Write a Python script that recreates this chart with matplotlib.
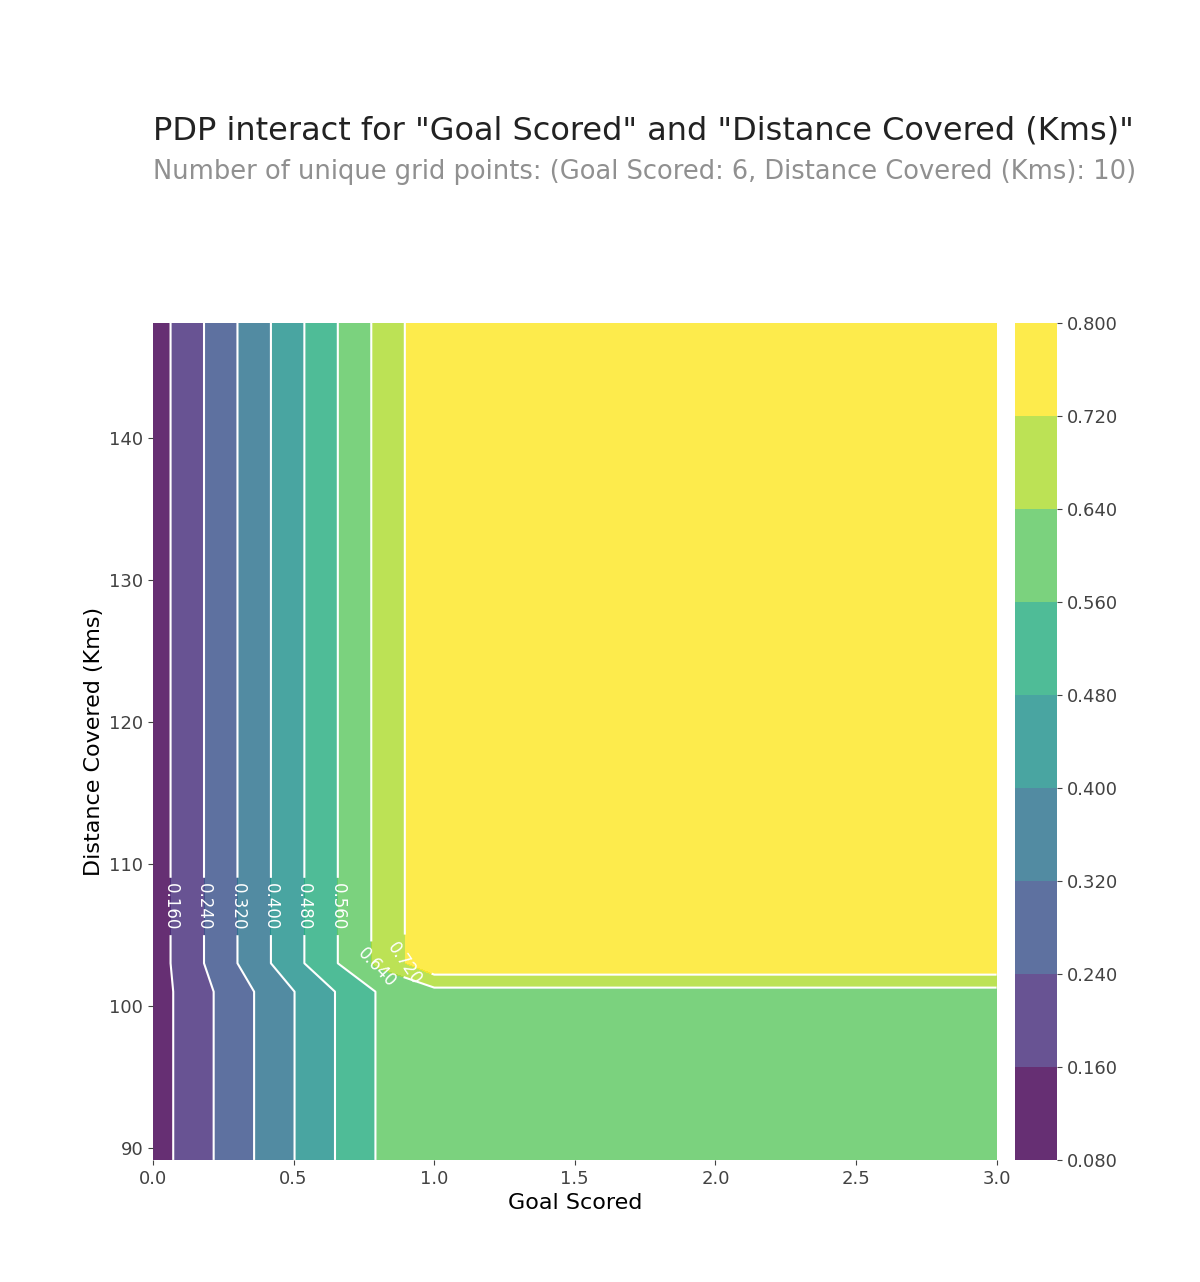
import numpy as np
import matplotlib
matplotlib.use("Agg")
import matplotlib.pyplot as plt

goal_scored = [0.0, 0.8, 1.0, 2.0, 2.5, 3.0]
distance = [89.15, 95.0, 101.0, 103.0, 109.0, 115.0, 122.0, 129.0, 138.0, 148.1]
low_profile = [0.12, 0.565, 0.615, 0.615, 0.615, 0.615]
high_profile = [0.118, 0.656, 0.79, 0.79, 0.79, 0.79]
levels = [0.08, 0.16, 0.24, 0.32, 0.40, 0.48, 0.56, 0.64, 0.72, 0.80]

Z = np.array([low_profile if d <= 101 else high_profile for d in distance])
X, Y = np.meshgrid(goal_scored, distance)

fig = plt.figure(figsize=(12, 12.82), dpi=100)
ax = fig.add_axes([0.1275, 0.0952, 0.703, 0.653])
cax = fig.add_axes([0.846, 0.0952, 0.035, 0.653])

colors = plt.cm.viridis(np.linspace(0, 1, len(levels) - 1))
cf = ax.contourf(X, Y, Z, levels=levels, colors=colors, alpha=0.82)
cs = ax.contour(X, Y, Z, levels=levels[1:-1], colors="white", linewidths=1.5)
manual = [(0.06, 107), (0.18, 107), (0.30, 107), (0.41, 107), (0.52, 107),
          (0.64, 107), (0.78, 102.3), (0.86, 102.6)]
ax.clabel(cs, fmt="%.3f", fontsize=12, colors="white", manual=manual, inline=True)

ax.set_xlim(0, 3)
ax.set_ylim(89.15, 148.1)
for s in ax.spines.values():
    s.set_visible(False)
ax.tick_params(labelsize=13, colors="#424242", labelcolor="#424242")
ax.set_xlabel("Goal Scored", fontsize=16)
ax.set_ylabel("Distance Covered (Kms)", fontsize=16)

cb = fig.colorbar(cf, cax=cax)
cb.outline.set_visible(False)
cb.set_ticks(levels)
cb.ax.set_yticklabels(["%.3f" % l for l in levels])
cb.ax.tick_params(labelsize=13, colors="#424242")

fig.text(0.1275, 0.898, 'PDP interact for "Goal Scored" and "Distance Covered (Kms)"',
         fontsize=23, color="#222222", va="center")
fig.text(0.1275, 0.866, "Number of unique grid points: (Goal Scored: 6, Distance Covered (Kms): 10)",
         fontsize=18.5, color="#909090", va="center")

fig.savefig("out.png", dpi=100)
